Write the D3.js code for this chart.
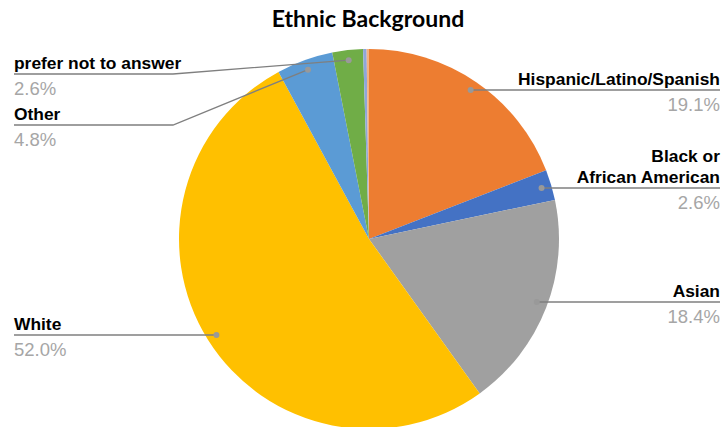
<!DOCTYPE html>
<html>
<head>
<meta charset="utf-8">
<script src="https://cdn.jsdelivr.net/npm/d3@7"></script>
<style>
  body { margin: 0; background: #fff; }
  svg { display: block; }
</style>
</head>
<body>
<svg id="chart"></svg>
<script>
const width = 722
const height = 427

// data, clockwise from 12 o'clock
const categories = ["Hispanic/Latino/Spanish", "Black or African American", "Asian", "White", "Other", "prefer not to answer", "unlisted a", "unlisted b"]
const values = [19.1, 2.6, 18.4, 52.0, 4.8, 2.6, 0.3, 0.2]
const colors = ["#ED7D31", "#4472C4", "#A0A0A0", "#FFC000", "#5B9BD5", "#70AD47", "#8FA6DA", "#F4B183"]

// label text lines, side and baseline of the bold label
const labelLines = [["Hispanic/Latino/Spanish"], ["Black or", "African American"], ["Asian"], ["White"], ["Other"], ["prefer not to answer"]]
const labelSide = ["right", "right", "right", "left", "left", "left"]
const labelY = [85, 183, 297, 330, 120, 69]

const cx = 369, cy = 239, R = 190, dotR = 180

const svg = d3.select("#chart").attr("width", width).attr("height", height)

svg.append("text")
    .attr("x", 368).attr("y", 27)
    .attr("text-anchor", "middle")
    .style("font-family", "Lato, 'Open Sans', sans-serif")
    .style("font-weight", 700)
    .style("font-size", "23px")
    .attr("fill", "#000")
    .text("Ethnic Background")

const pie = d3.pie().sort(null).value(d => d)
const arcs = pie(values)
const arc = d3.arc().innerRadius(0).outerRadius(R)
const dotArc = d3.arc().innerRadius(dotR).outerRadius(dotR)

const g = svg.append("g").attr("transform", `translate(${cx},${cy})`)
g.selectAll("path.slice")
    .data(arcs)
    .join("path")
    .attr("class", "slice")
    .attr("d", arc)
    .attr("fill", (d, i) => colors[i])

const font = "'Liberation Sans', Arial, sans-serif"
const lineColor = "#7f7f7f"

labelLines.forEach((lines, i) => {
    const [dx, dy] = dotArc.centroid(arcs[i])
    const px = cx + dx, py = cy + dy
    const side = labelSide[i]
    const tx = side === "right" ? 720 : 14
    const anchor = side === "right" ? "end" : "start"
    const lineY = labelY[i] + 5

    // leader line
    let pts
    if (side === "right" || i === 3) {
        pts = [[px, lineY], [tx, lineY]]
    } else {
        pts = [[px, py], [173, lineY], [tx, lineY]]
    }
    svg.append("path")
        .attr("d", d3.line()(pts))
        .attr("fill", "none")
        .attr("stroke", lineColor)
        .attr("stroke-width", 1.3)
    svg.append("circle")
        .attr("cx", px).attr("cy", side === "right" || i === 3 ? lineY : py).attr("r", 3)
        .attr("fill", "#999")

    lines.forEach((t, k) => {
        svg.append("text")
            .attr("x", tx)
            .attr("y", labelY[i] - (lines.length - 1 - k) * 21)
            .attr("text-anchor", anchor)
            .style("font-family", font)
            .style("font-weight", 700)
            .style("font-size", "17.4px")
            .attr("fill", "#000")
            .text(t)
    })
    svg.append("text")
        .attr("x", tx)
        .attr("y", labelY[i] + 26)
        .attr("text-anchor", anchor)
        .style("font-family", font)
        .style("font-size", "18.5px")
        .attr("fill", "#a6a6a6")
        .text(values[i].toFixed(1) + "%")
})
</script>
</body>
</html>
